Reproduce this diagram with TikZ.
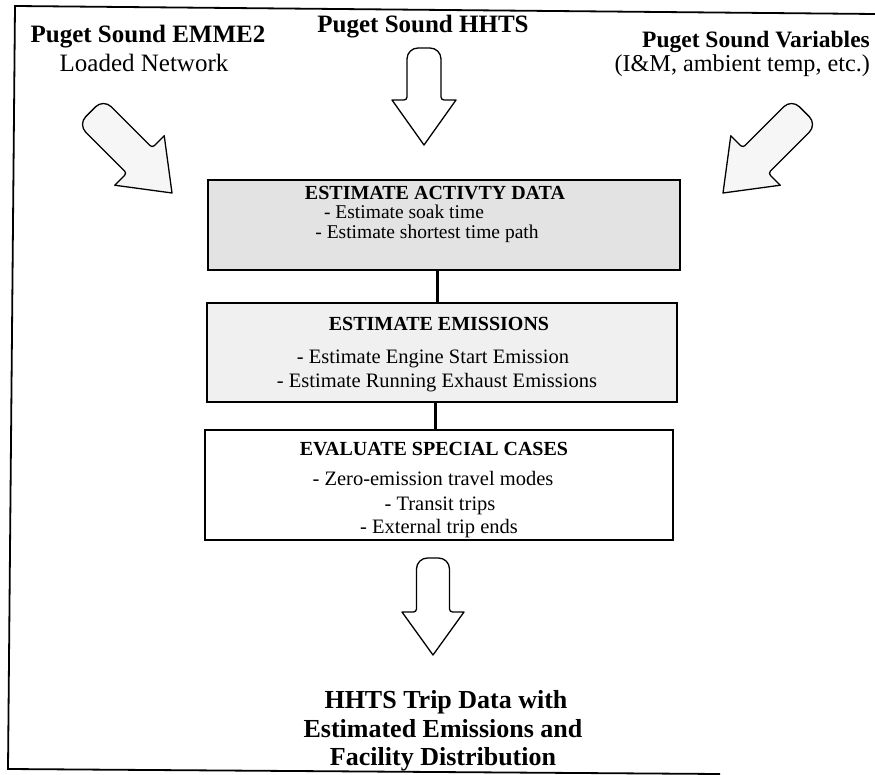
\documentclass[tikz,border=0pt]{standalone}
\usepackage{fontspec}
\setmainfont{Liberation Serif}
\newcommand\blkarrow[7]{%
  \draw[#7,shift={#1},rotate=#2] (0,0) -- (-#3,-#4) [rounded corners=3pt] -- (-#5,-#4) [rounded corners=11pt] -- (-#5,-#4-#6) -- (#5,-#4-#6) [rounded corners=3pt] -- (#5,-#4) [sharp corners] -- (#3,-#4) -- cycle;}
\tikzset{
  framestyle/.style={line width=1.8pt},
  boxstyle/.style={draw, line width=1.6pt, rectangle, inner sep=0pt},
  conn/.style={line width=3pt},
  arrline/.style={draw, line width=1.3pt, line join=round},
  title/.style={anchor=base, font=\fontsize{25}{27}\selectfont\bfseries},
  subtitle/.style={anchor=base, font=\fontsize{25}{27}\selectfont},
  btitle/.style={anchor=base, font=\fontsize{#1}{#1}\selectfont\bfseries},
  bline/.style={anchor=base, font=\fontsize{#1}{#1}\selectfont},
  endtext/.style={anchor=base, font=\fontsize{26}{28}\selectfont\bfseries}
}
\begin{document}
\begin{tikzpicture}[x=1pt,y=-1pt]
\useasboundingbox (0,0) rectangle (875,775);
% frame
\draw[framestyle] (875,14) -- (15,6) -- (8,769) -- (720,774);
% titles
\node[title] (emme) at (148,43) {Puget Sound EMME2};
\node[subtitle] (loaded) at (144,72) {Loaded Network};
\node[title] (hhts) at (423,33) {Puget Sound HHTS};
\node[title, font=\fontsize{23.5}{25}\selectfont\bfseries] (vars) at (756,48) {Puget Sound Variables};
\node[subtitle, anchor=base west, font=\fontsize{24.2}{26}\selectfont] (im) at (611,72) {(I\&M, ambient temp, etc.)};
% block arrows
\blkarrow{(172,193)}{45}{35}{46}{18}{69}{arrline, fill=gray!7}
\blkarrow{(424,145)}{0}{32}{45}{17}{52}{arrline, fill=white}
\blkarrow{(723,193)}{-45}{35}{46}{18}{69}{arrline, fill=gray!7}
\blkarrow{(433,655)}{0}{31}{43}{16.5}{54}{arrline, fill=white}
% boxes
\node[boxstyle, fill=gray!22, minimum width=472pt, minimum height=90pt] (b1) at (444,225) {};
\node[boxstyle, fill=gray!12, minimum width=470pt, minimum height=99pt] (b2) at (442,352.5) {};
\node[boxstyle, fill=white, minimum width=468pt, minimum height=110pt] (b3) at (439,485) {};
\draw[conn] ([xshift=-7pt]b1.south) -- ([xshift=-5pt]b2.north);
\draw[conn] ([xshift=-7pt]b2.south) -- ([xshift=-4pt]b3.north);
% box texts
\node[btitle=20] (b1t) at (435,200) {ESTIMATE ACTIVTY DATA};
\node[bline=19.5] (b1a) at (404,219) {- Estimate soak time};
\node[bline=19.5] (b1b) at (427,239) {- Estimate shortest time path};
\node[btitle=20] (b2t) at (439,331) {ESTIMATE EMISSIONS};
\node[bline=20.5] (b2a) at (433,363) {- Estimate Engine Start Emission};
\node[bline=20.5] (b2b) at (437,387) {- Estimate Running Exhaust Emissions};
\node[btitle=20] (b3t) at (434,455) {EVALUATE SPECIAL CASES};
\node[bline=20.5] (b3a) at (433,485) {- Zero-emission travel modes};
\node[bline=20.5] (b3b) at (440,510) {- Transit trips};
\node[bline=20.5] (b3c) at (439,533) {- External trip ends};
% output text
\node[endtext] (o1) at (446,708) {HHTS Trip Data with};
\node[endtext] (o2) at (443,737) {Estimated Emissions and};
\node[endtext] (o3) at (443,765) {Facility Distribution};
\end{tikzpicture}
\end{document}
